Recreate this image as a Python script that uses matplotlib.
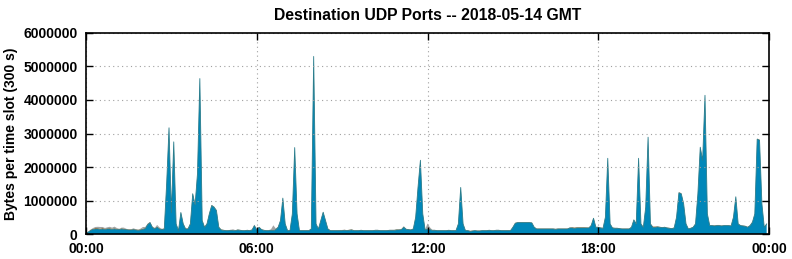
import numpy as np
import matplotlib
matplotlib.use('Agg')
import matplotlib.pyplot as plt

plt.rcParams['font.family'] = ['Liberation Sans', 'DejaVu Sans']
plt.rcParams['font.weight'] = 'bold'

# bytes per 300 s slot, in thousands, 12 slots per hour
udp_main = [
    30, 60, 110, 140, 150, 150, 140, 150, 140, 150, 150, 140,
    150, 140, 130, 150, 140, 130, 120, 120, 130, 120, 110, 120,
    140, 160, 280, 340, 200, 150, 200, 150, 130, 150, 1500, 3170,
    640, 2750, 300, 100, 640, 300, 150, 150, 300, 1200, 870, 1800,
    4640, 400, 200, 300, 600, 850, 800, 700, 200, 120, 110, 100,
    100, 110, 100, 100, 120, 110, 100, 100, 110, 100, 120, 250,
    120, 200, 130, 110, 100, 100, 110, 100, 130, 200, 400, 1070,
    300, 100, 100, 600, 2580, 600, 100, 100, 100, 100, 100, 150,
    5300, 300, 150, 400, 650, 400, 150, 100, 100, 100, 100, 100,
    100, 110, 100, 110, 120, 100, 100, 100, 110, 100, 100, 100,
    100, 100, 110, 110, 100, 100, 100, 100, 110, 110, 110, 120,
    120, 130, 200, 140, 130, 120, 150, 500, 1400, 2200, 600, 120,
    150, 130, 110, 110, 100, 100, 100, 100, 100, 110, 100, 100,
    100, 300, 1390, 300, 100, 100, 80, 90, 100, 90, 90, 100,
    100, 100, 110, 100, 100, 110, 110, 100, 100, 100, 100, 100,
    200, 320, 340, 340, 340, 340, 340, 340, 330, 200, 150, 150,
    150, 150, 150, 150, 150, 150, 140, 150, 150, 150, 150, 150,
    180, 180, 170, 180, 180, 180, 180, 180, 180, 250, 470, 200,
    200, 180, 170, 500, 2260, 300, 180, 170, 170, 160, 150, 150,
    150, 150, 200, 420, 300, 2260, 300, 200, 800, 2890, 300, 200,
    200, 210, 200, 190, 200, 180, 170, 160, 180, 500, 1230, 1200,
    900, 300, 150, 170, 200, 300, 1200, 2590, 2200, 4140, 600, 250,
    250, 240, 250, 250, 240, 250, 250, 250, 240, 500, 1110, 300,
    250, 240, 230, 200, 250, 350, 600, 2830, 2800, 900, 200, 300,
]

udp_orange = [
    0, 5, 15, 20, 30, 25, 20, 30, 20, 20, 25, 20,
    20, 20, 15, 20, 20, 15, 15, 15, 20, 15, 15, 20,
    20, 20, 20, 15, 15, 15, 20, 15, 15, 15, 20, 20,
    15, 20, 15, 15, 15, 15, 15, 15, 15, 20, 15, 20,
    20, 15, 15, 15, 15, 15, 15, 15, 15, 15, 10, 10,
    10, 10, 10, 10, 10, 10, 10, 10, 10, 10, 10, 10,
    10, 10, 10, 10, 10, 10, 10, 10, 15, 10, 10, 15,
    10, 10, 10, 10, 15, 10, 10, 10, 10, 10, 10, 10,
    20, 10, 10, 10, 10, 10, 10, 10, 10, 10, 10, 15,
    15, 15, 10, 15, 15, 10, 10, 10, 10, 10, 10, 10,
    10, 10, 10, 10, 10, 10, 10, 10, 10, 10, 10, 15,
    15, 15, 15, 10, 10, 10, 10, 10, 15, 15, 10, 10,
    15, 10, 10, 10, 10, 10, 10, 10, 10, 10, 10, 10,
    10, 10, 15, 10, 10, 10, 10, 10, 10, 10, 10, 10,
    10, 10, 10, 10, 10, 10, 10, 10, 10, 10, 10, 10,
    10, 10, 10, 10, 10, 10, 10, 10, 10, 10, 10, 10,
    10, 10, 10, 10, 10, 10, 10, 10, 10, 10, 10, 10,
    10, 20, 20, 20, 20, 20, 20, 15, 10, 10, 10, 10,
    10, 10, 10, 10, 15, 10, 10, 10, 10, 10, 10, 10,
    10, 10, 10, 10, 10, 15, 10, 10, 10, 15, 10, 20,
    20, 15, 10, 10, 10, 10, 10, 10, 10, 10, 15, 15,
    10, 10, 10, 10, 10, 10, 10, 15, 15, 20, 10, 10,
    10, 15, 15, 15, 10, 10, 10, 10, 10, 10, 15, 10,
    10, 10, 10, 10, 10, 10, 10, 15, 15, 10, 10, 10,
]

udp_gray = [
    0, 2, 10, 20, 30, 40, 50, 30, 20, 30, 40, 30,
    50, 20, 10, 20, 30, 10, 5, 5, 20, 10, 5, 20,
    50, 30, 10, 5, 5, 20, 50, 30, 10, 5, 5, 5,
    5, 5, 5, 5, 5, 5, 5, 5, 5, 5, 5, 20,
    5, 5, 5, 5, 5, 5, 5, 5, 5, 5, 5, 5,
    5, 5, 30, 5, 5, 5, 5, 5, 5, 5, 5, 20,
    5, 5, 5, 5, 5, 5, 20, 150, 20, 5, 5, 5,
    5, 5, 5, 5, 5, 5, 5, 5, 5, 5, 5, 5,
    20, 5, 5, 5, 5, 5, 5, 5, 5, 5, 5, 5,
    5, 5, 5, 5, 5, 5, 5, 5, 5, 5, 5, 5,
    5, 5, 5, 5, 5, 5, 5, 5, 5, 5, 5, 5,
    5, 5, 20, 5, 5, 5, 5, 5, 5, 20, 5, 5,
    150, 60, 5, 5, 5, 5, 5, 5, 5, 5, 5, 5,
    5, 5, 5, 5, 5, 5, 5, 5, 5, 5, 5, 5,
    5, 5, 5, 5, 5, 5, 5, 5, 5, 5, 5, 5,
    5, 5, 5, 5, 5, 5, 5, 5, 5, 5, 5, 5,
    5, 5, 5, 5, 5, 5, 5, 5, 5, 5, 5, 5,
    5, 5, 5, 5, 5, 5, 5, 5, 5, 5, 5, 5,
    5, 5, 5, 5, 5, 5, 5, 5, 5, 5, 5, 5,
    5, 5, 5, 5, 5, 5, 5, 5, 5, 5, 5, 5,
    5, 5, 5, 5, 5, 5, 5, 5, 5, 5, 5, 5,
    5, 5, 5, 5, 5, 5, 5, 5, 5, 5, 5, 5,
    5, 5, 5, 5, 5, 5, 5, 5, 5, 5, 5, 5,
    5, 5, 5, 5, 5, 5, 5, 5, 5, 5, 5, 5,
]

x_ticks = [0, 6, 12, 18, 24]
x_labels = ['00:00', '06:00', '12:00', '18:00', '00:00']
y_ticks = [0, 1000000, 2000000, 3000000, 4000000, 5000000, 6000000]

hours = np.arange(len(udp_main)) / 12.0
main = np.array(udp_main) * 1000.0
orange = np.array(udp_orange) * 1000.0
gray = np.array(udp_gray) * 1000.0

fig = plt.figure(figsize=(7.92, 2.59), dpi=100)
ax = fig.add_axes([0.1086, 0.0965, 0.8624, 0.7761])

ax.stackplot(hours, main, orange, gray,
             colors=['#0087b9', '#d2752a', '#a3a3a3'], linewidth=0)
# thin outline on the blue layer, like the original rendering
ax.plot(hours, main, color='#2a7d8c', linewidth=0.6)

ax.set_xlim(0, 24)
ax.set_ylim(0, 6000000)
ax.set_xticks(x_ticks)
ax.set_xticklabels(x_labels)
ax.set_yticks(y_ticks)
ax.set_yticklabels([str(v) for v in y_ticks])
ax.tick_params(direction='in', top=True, right=True, length=5, width=1,
               labelsize=10, pad=6)
for lab in ax.get_xticklabels() + ax.get_yticklabels():
    lab.set_fontweight('bold')
ax.grid(True, color='#a0a0a0', linestyle=(0, (1, 3)), linewidth=0.8)
ax.set_axisbelow(False)
for sp in ax.spines.values():
    sp.set_linewidth(1.2)
    sp.set_zorder(5)

ax.set_title('Destination UDP Ports -- 2018-05-14 GMT', fontsize=11.3,
             fontweight='bold', pad=9)
ax.set_ylabel('Bytes per time slot (300 s)', fontsize=10, fontweight='bold',
              labelpad=4)

fig.savefig('out.png', dpi=100)
